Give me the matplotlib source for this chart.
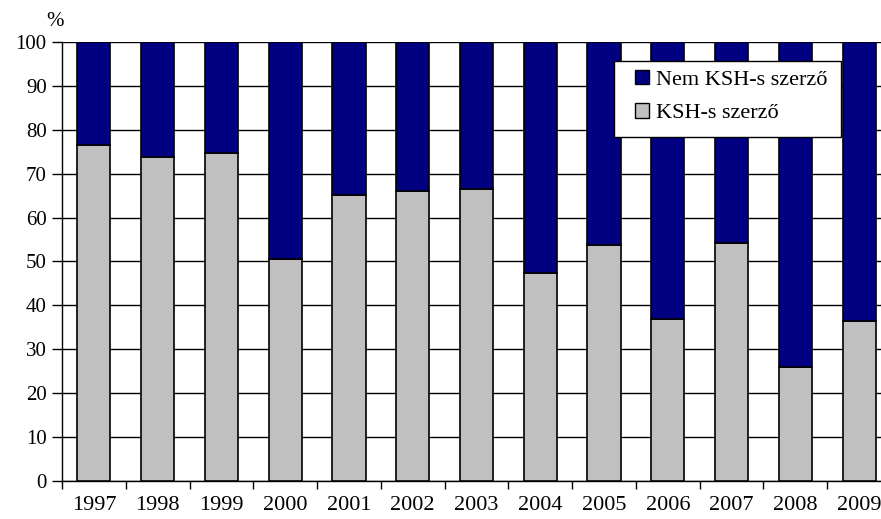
import matplotlib
matplotlib.use("Agg")
import matplotlib.pyplot as plt
from matplotlib.patches import Patch, Rectangle
import numpy as np

years = ["1997", "1998", "1999", "2000", "2001", "2002", "2003",
         "2004", "2005", "2006", "2007", "2008", "2009"]
ksh = [76.6, 73.9, 74.8, 50.6, 65.2, 66.1, 66.5, 47.4, 53.8, 36.9, 54.3, 26.0, 36.5]
nem_ksh = [100 - v for v in ksh]
yticks = [0, 10, 20, 30, 40, 50, 60, 70, 80, 90, 100]

plt.rcParams['font.family'] = ['Liberation Serif', 'DejaVu Serif']

W, H = 881, 519
fig = plt.figure(figsize=(W / 100, H / 100), dpi=100)
left, right, bottom, top = 62, 891, 480.5, 42.3
ax = fig.add_axes([left / W, (H - bottom) / H, (right - left) / W, (bottom - top) / H])

x = np.arange(len(years))
bw = 0.52
ax.bar(x, ksh, bw, color="#C0C0C0", edgecolor="black", linewidth=1.2, zorder=3,
       label="KSH-s szerző")
ax.bar(x, nem_ksh, bw, bottom=ksh, color="#000080", edgecolor="black", linewidth=1.2,
       zorder=3, label="Nem KSH-s szerző")

ax.set_xlim(-0.5, len(years) - 0.5)
ax.set_ylim(0, 100)
ax.set_yticks(yticks)
ax.set_yticklabels([str(v) for v in yticks], fontsize=15)
ax.yaxis.grid(True, color="black", linewidth=1.0, zorder=0)
ax.set_axisbelow(True)

ax.set_xticks(np.arange(len(years) + 1) - 0.5)
ax.set_xticklabels([])
ax.set_xticks(x, minor=True)
ax.set_xticklabels(years, minor=True, fontsize=16)
ax.tick_params(axis="x", which="minor", length=0, pad=11.5)
ax.tick_params(axis="x", which="major", length=6, width=1, direction="out")
ax.tick_params(axis="y", length=7, width=1, direction="out", pad=4)

for s in ["top", "right"]:
    ax.spines[s].set_visible(False)
for s in ["left", "bottom"]:
    ax.spines[s].set_linewidth(1.0)
    ax.spines[s].set_color("black")

fig.text(55 / W, 1 - 21 / H, "%", fontsize=15, ha="center", va="center")

# legend frame
frame = Rectangle((614 / W, 1 - 137 / H), (841 - 614) / W, (137 - 61) / H,
                  transform=fig.transFigure, facecolor="white", edgecolor="black",
                  linewidth=1.0, zorder=4)
fig.add_artist(frame)

handles = [Patch(facecolor="#000080", edgecolor="black", label="Nem KSH-s szerző"),
           Patch(facecolor="#C0C0C0", edgecolor="black", label="KSH-s szerző")]
leg = fig.legend(handles=handles, loc="center left",
                 bbox_to_anchor=(635 / W, 1 - 96.5 / H), fontsize=16,
                 frameon=False, handlelength=0.63, handleheight=0.63,
                 handletextpad=0.32, labelspacing=0.62, borderpad=0, borderaxespad=0)
leg.set_zorder(5)

fig.savefig("out.png", dpi=100)
